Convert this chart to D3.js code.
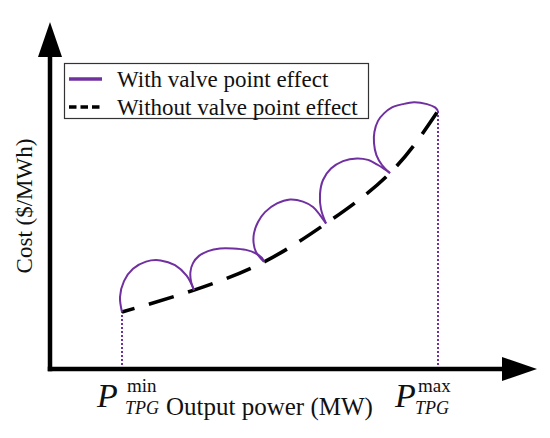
<!DOCTYPE html>
<html><head><meta charset="utf-8">
<script src="https://cdn.jsdelivr.net/npm/d3@7"></script>
<style>
html,body{margin:0;padding:0;background:#fff;}
svg{display:block;}
text{font-family:"Liberation Serif","Times New Roman",Times,serif;fill:#111;}
</style></head>
<body>
<svg id="chart" width="550" height="438" font-family="Liberation Serif, Times New Roman, serif"></svg>
<script>
// ---- data (abstract units) ----
const pMin = 18, pMax = 97;
const seriesNames = ["With valve point effect", "Without valve point effect"];
const xTitle = "Output power (MW)";
const yTitle = "Cost ($/MWh)";
// smooth cost curve (without valve point effect)
const smoothP    = [18, 36, 53.5, 69, 85, 97];
const smoothCost = [19, 26.3, 35.7, 48.5, 65.3, 86];
// valve-point arcs (with valve point effect), one array per arc
const arc1P = [18, 17.5, 18.5, 20.75, 24, 27.65, 31.25, 34.15, 36];
const arc1C = [19, 24, 29.3, 33.4, 35.8, 36.2, 34.6, 31.1, 26.3];
const arc2P = [36, 35.25, 35.1, 35.75, 37.25, 39.5, 42.5, 45.75, 49, 51.5, 53, 53.5];
const arc2C = [26.3, 29.3, 32.3, 35.3, 37.7, 39.3, 40.2, 40.2, 39.7, 38.5, 37, 35.7];
const arc3P = [53.5, 51.5, 50.9, 51, 52, 53.75, 56.75, 60, 63.25, 65.75, 67.5, 69];
const arc3C = [35.7, 39, 42, 45.3, 49, 52.3, 55.2, 56.5, 55.8, 54, 51.3, 48.5];
const arc4P = [69, 67.75, 67.5, 68.25, 70.25, 73.25, 76.75, 79.5, 82, 83.75, 85];
const arc4C = [48.5, 53.3, 58.3, 63, 66.8, 69.3, 70.2, 69.7, 68, 66.5, 65.3];
const arc5P = [85, 83, 81.6, 81, 81.1, 82, 83.5, 85.5, 88.25, 91, 94.25, 96.25, 97];
const arc5C = [65.3, 68, 71.3, 75.3, 79, 82.7, 85.2, 87.2, 88.3, 88.9, 88.3, 87.2, 86];
const arcsP = [arc1P, arc2P, arc3P, arc4P, arc5P];
const arcsC = [arc1C, arc2C, arc3C, arc4C, arc5C];
const xAxisEnd = 113, yAxisEnd = 104;

// ---- drawing ----
const purple = "#7030a0";
const svg = d3.select("#chart");
const x = d3.scaleLinear().domain([0, 100]).range([50, 450]);
const y = d3.scaleLinear().domain([0, 100]).range([369, 69]);

// guide dotted lines
[pMin, pMax].forEach((p, i) => {
  const c = i === 0 ? smoothCost[0] : smoothCost[smoothCost.length - 1];
  svg.append("line")
    .attr("x1", x(p)).attr("x2", x(p))
    .attr("y1", y(0)).attr("y2", y(c))
    .attr("stroke", purple).attr("stroke-width", 2)
    .attr("stroke-dasharray", "2,2");
});

// axes
const axisW = 4.5;
svg.append("line").attr("x1", x(0)).attr("x2", x(0))
  .attr("y1", y(0) + axisW / 2).attr("y2", y(yAxisEnd))
  .attr("stroke", "#000").attr("stroke-width", axisW);
svg.append("line").attr("x1", x(0) - axisW / 2).attr("x2", x(xAxisEnd))
  .attr("y1", y(0)).attr("y2", y(0))
  .attr("stroke", "#000").attr("stroke-width", axisW);
// arrowheads
svg.append("path")
  .attr("d", `M${x(0)},${y(yAxisEnd) - 35} L${x(0) - 12},${y(yAxisEnd)} L${x(0) + 12},${y(yAxisEnd)} Z`)
  .attr("fill", "#000");
svg.append("path")
  .attr("d", `M${x(xAxisEnd) + 35},${y(0)} L${x(xAxisEnd)},${y(0) - 12} L${x(xAxisEnd)},${y(0) + 12} Z`)
  .attr("fill", "#000");

// smooth curve (dashed)
svg.append("path")
  .datum(d3.zip(smoothP, smoothCost))
  .attr("d", d3.line().x(d => x(d[0])).y(d => y(d[1])).curve(d3.curveNatural))
  .attr("fill", "none").attr("stroke", "#000")
  .attr("stroke-width", 3.6)
  .attr("stroke-dasharray", "26,15").attr("stroke-dashoffset", 13);

// valve point arcs
const arcLine = d3.line().x(d => x(d[0])).y(d => y(d[1])).curve(d3.curveCatmullRom.alpha(0.5));
arcsP.forEach((ps, i) => {
  svg.append("path")
    .datum(d3.zip(ps, arcsC[i]))
    .attr("d", arcLine)
    .attr("fill", "none").attr("stroke", purple).attr("stroke-width", 2)
    .attr("stroke-linejoin", "round");
});

// legend
const lg = svg.append("g");
lg.append("rect").attr("x", 64.5).attr("y", 63.5).attr("width", 304).attr("height", 55)
  .attr("fill", "#fff").attr("stroke", "#333").attr("stroke-width", 1.2);
lg.append("line").attr("x1", 69).attr("x2", 102).attr("y1", 79).attr("y2", 79)
  .attr("stroke", purple).attr("stroke-width", 3.5);
lg.append("line").attr("x1", 69).attr("x2", 102).attr("y1", 107).attr("y2", 107)
  .attr("stroke", "#000").attr("stroke-width", 3.5).attr("stroke-dasharray", "7.5,4");
lg.selectAll("text.lt").data(seriesNames).enter().append("text")
  .attr("class", "lt")
  .attr("x", 117).attr("y", (d, i) => 87 + i * 28)
  .attr("font-size", 23).text(d => d);

// axis titles
svg.append("text").attr("x", 166).attr("y", 415).attr("font-size", 25).text(xTitle);
svg.append("text").attr("transform", "translate(32,206) rotate(-90)")
  .attr("text-anchor", "middle").attr("font-size", 23).text(yTitle);

// P labels
function pLabel(p, sup, dxP, dxSup, dxSub) {
  const g = svg.append("g");
  g.append("text").attr("x", x(p) + dxP).attr("y", 407)
    .attr("font-size", 34).attr("font-style", "italic").text("P");
  g.append("text").attr("x", x(p) + dxSup).attr("y", 392)
    .attr("font-size", 19).text(sup);
  g.append("text").attr("x", x(p) + dxSub).attr("y", 414)
    .attr("font-size", 18).attr("font-style", "italic").text("TPG");
}
pLabel(pMin, "min", -25, 5, 3);
pLabel(pMax, "max", -43, -20, -23);
</script>
</body></html>
